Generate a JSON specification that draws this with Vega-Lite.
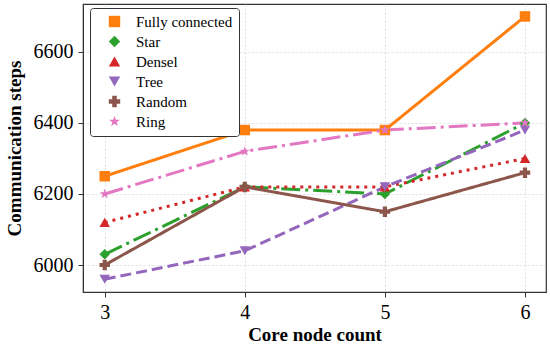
{
  "$schema": "https://vega.github.io/schema/vega-lite/v6.json",
  "width": 550,
  "height": 347,
  "autosize": {"type": "fit", "contains": "padding"},
  "padding": {"left": 5, "top": 4, "right": 4, "bottom": 3},
  "background": "white",
  "config": {
    "view": {"stroke": "#333", "strokeWidth": 1.2},
    "font": "Liberation Serif",
    "axis": {
      "labelFont": "Liberation Serif",
      "labelFontSize": 20,
      "labelColor": "black",
      "titleFont": "Liberation Serif",
      "titleFontSize": 19,
      "titleFontWeight": "bold",
      "titleColor": "black",
      "domainColor": "#333",
      "tickColor": "#333",
      "tickSize": 5,
      "grid": true,
      "gridColor": "#d8d8d8",
      "gridDash": [2, 2],
      "gridWidth": 0.8
    }
  },
  "data": {
    "values": [
      {"n": 3, "steps": 6250, "s": "Fully connected"},
      {"n": 4, "steps": 6380, "s": "Fully connected"},
      {"n": 5, "steps": 6380, "s": "Fully connected"},
      {"n": 6, "steps": 6700, "s": "Fully connected"},
      {"n": 3, "steps": 6030, "s": "Star"},
      {"n": 4, "steps": 6220, "s": "Star"},
      {"n": 5, "steps": 6200, "s": "Star"},
      {"n": 6, "steps": 6400, "s": "Star"},
      {"n": 3, "steps": 6120, "s": "Densel"},
      {"n": 4, "steps": 6220, "s": "Densel"},
      {"n": 5, "steps": 6220, "s": "Densel"},
      {"n": 6, "steps": 6300, "s": "Densel"},
      {"n": 3, "steps": 5960, "s": "Tree"},
      {"n": 4, "steps": 6040, "s": "Tree"},
      {"n": 5, "steps": 6220, "s": "Tree"},
      {"n": 6, "steps": 6380, "s": "Tree"},
      {"n": 3, "steps": 6000, "s": "Random"},
      {"n": 4, "steps": 6220, "s": "Random"},
      {"n": 5, "steps": 6150, "s": "Random"},
      {"n": 6, "steps": 6260, "s": "Random"},
      {"n": 3, "steps": 6200, "s": "Ring"},
      {"n": 4, "steps": 6320, "s": "Ring"},
      {"n": 5, "steps": 6380, "s": "Ring"},
      {"n": 6, "steps": 6400, "s": "Ring"}
    ]
  },
  "encoding": {
    "x": {
      "field": "n", "type": "quantitative",
      "scale": {"domain": [2.845, 6.15], "nice": false, "zero": false},
      "axis": {"values": [3, 4, 5, 6], "format": "d", "title": "Core node count", "titlePadding": 3, "labelPadding": 5}
    },
    "y": {
      "field": "steps", "type": "quantitative",
      "scale": {"domain": [5924, 6735], "nice": false, "zero": false},
      "axis": {"values": [6000, 6200, 6400, 6600], "format": "d", "title": "Communication steps", "titlePadding": 9, "labelPadding": 5}
    },
    "color": {
      "field": "s", "type": "nominal",
      "scale": {
        "domain": ["Fully connected", "Star", "Densel", "Tree", "Random", "Ring"],
        "range": ["#ff7f0e", "#2ca02c", "#d62728", "#9467bd", "#8c564b", "#e377c2"]
      },
      "legend": {
        "title": null,
        "orient": "none",
        "legendX": 7,
        "legendY": 4,
        "labelFont": "Liberation Serif",
        "labelFontSize": 15,
        "labelColor": "black",
        "labelOffset": 14,
        "symbolOffset": 11,
        "symbolSize": 130,
        "symbolStrokeWidth": 0,
        "symbolOpacity": 1,
        "rowPadding": 4,
        "padding": 6,
        "strokeColor": "#333",
        "fillColor": "white",
        "cornerRadius": 3
      }
    }
  },
  "layer": [
    {
      "mark": {"type": "line", "strokeWidth": 3},
      "encoding": {
        "strokeDash": {
          "field": "s", "type": "nominal", "legend": null,
          "scale": {
            "domain": ["Fully connected", "Star", "Densel", "Tree", "Random", "Ring"],
            "range": [[1, 0], [19, 5, 3, 5], [3, 5], [11, 5], [1, 0], [19, 5, 3, 5]]
          }
        }
      }
    },
    {
      "mark": {"type": "point", "filled": true, "size": 110, "opacity": 1},
      "encoding": {
        "shape": {
          "field": "s", "type": "nominal", "legend": null,
          "scale": {
            "domain": ["Fully connected", "Star", "Densel", "Tree", "Random", "Ring"],
            "range": ["square", "diamond", "triangle-up", "triangle-down", "cross", "M0,-1L0.235,-0.324L0.951,-0.309L0.380,0.124L0.588,0.809L0,0.4L-0.588,0.809L-0.380,0.124L-0.951,-0.309L-0.235,-0.324Z"]
          }
        }
      }
    }
  ]
}
